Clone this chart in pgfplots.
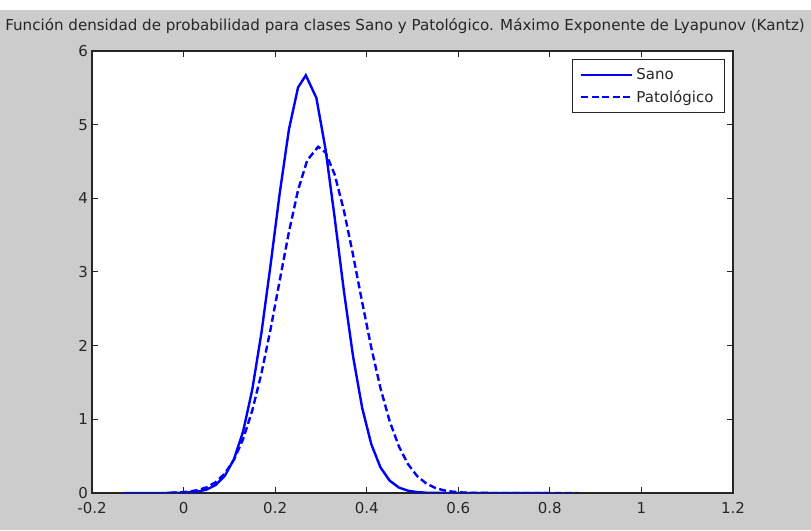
\documentclass[border=0pt]{standalone}
\usepackage{pgfplots}
\pgfplotsset{compat=1.18}
\usepackage{pgfplotstable}
\usepackage{fontspec}
\setmainfont{DejaVu Sans}
\definecolor{bggray}{RGB}{204,204,204}
\definecolor{axgray}{RGB}{38,38,38}
\definecolor{mblue}{RGB}{0,0,255}
\pgfplotstableread{
x y
-0.13 0
-0.05 0
-0.01 0.002
0.01 0.007
0.03 0.018
0.05 0.046
0.07 0.108
0.09 0.232
0.11 0.458
0.13 0.835
0.15 1.403
0.17 2.171
0.19 3.096
0.21 4.070
0.23 4.931
0.25 5.505
0.267 5.67
0.29 5.364
0.31 4.669
0.33 3.738
0.35 2.750
0.37 1.861
0.39 1.158
0.41 0.662
0.43 0.348
0.45 0.168
0.47 0.075
0.49 0.031
0.51 0.012
0.53 0.004
0.55 0.001
0.60 0
0.80 0
}\sano
\pgfplotstableread{
x y
-0.03 0.003
-0.01 0.008
0.01 0.018
0.03 0.038
0.05 0.076
0.07 0.146
0.09 0.264
0.11 0.451
0.13 0.731
0.15 1.119
0.17 1.622
0.19 2.224
0.21 2.884
0.23 3.540
0.25 4.111
0.27 4.516
0.294 4.70
0.31 4.623
0.33 4.323
0.35 3.839
0.37 3.237
0.39 2.592
0.41 1.972
0.43 1.424
0.45 0.977
0.47 0.636
0.49 0.393
0.51 0.231
0.53 0.129
0.55 0.068
0.57 0.034
0.59 0.016
0.61 0.007
0.63 0.003
0.65 0.001
0.70 0
0.86 0
}\pato
\begin{document}
\begin{tikzpicture}
\useasboundingbox (0,0) rectangle (811pt,530pt);
\fill[bggray] (0,0) rectangle (811pt,520pt);
\fill[white] (0,520pt) rectangle (811pt,530pt);
\node[anchor=base, inner sep=0pt, text=axgray, font=\fontsize{15.1}{18}\selectfont] at (405pt,499pt)
  {Función densidad de probabilidad para clases Sano y Patológico. Máximo Exponente de Lyapunov (Kantz)};
\begin{axis}[
  at={(92pt,37pt)}, anchor=south west,
  scale only axis, width=641pt, height=442pt,
  xmin=-0.2, xmax=1.2, ymin=0, ymax=6,
  xtick={-0.2,0,0.2,0.4,0.6,0.8,1,1.2},
  xticklabels={-0.2,0,0.2,0.4,0.6,0.8,1,1.2},
  ytick={0,1,2,3,4,5,6},
  axis background/.style={fill=white},
  axis line style={axgray, line width=1.2pt},
  tick style={axgray, line width=1pt},
  tick align=inside, major tick length=6pt,
  xtick pos=both, ytick pos=both,
  ticklabel style={font=\fontsize{15}{18}\selectfont, text=axgray},
  /pgf/number format/assume math mode=true,
  xticklabel style={yshift=-8pt, inner sep=1pt},
  yticklabel style={xshift=-2pt, inner sep=2pt},
  legend cell align=left,
  legend style={at={(1,1)}, anchor=north east, xshift=-8pt, yshift=-8pt,
    draw=axgray, line width=1pt, fill=white,
    font=\fontsize{15}{18}\selectfont, text=axgray,
    inner xsep=8pt, inner ysep=8pt, row sep=7pt,
    nodes={inner xsep=3pt, inner ysep=1pt}},
  legend image code/.code={\draw[#1] (0pt,0pt) -- (51pt,0pt);},
]
\addplot[mblue, line width=2.4pt] table[x=x,y=y] {\sano};
\addlegendentry{Sano}
\addplot[mblue, line width=2.4pt, dash pattern=on 7pt off 3.5pt] table[x=x,y=y] {\pato};
\addlegendentry{Patológico}
\end{axis}
\end{tikzpicture}
\end{document}
